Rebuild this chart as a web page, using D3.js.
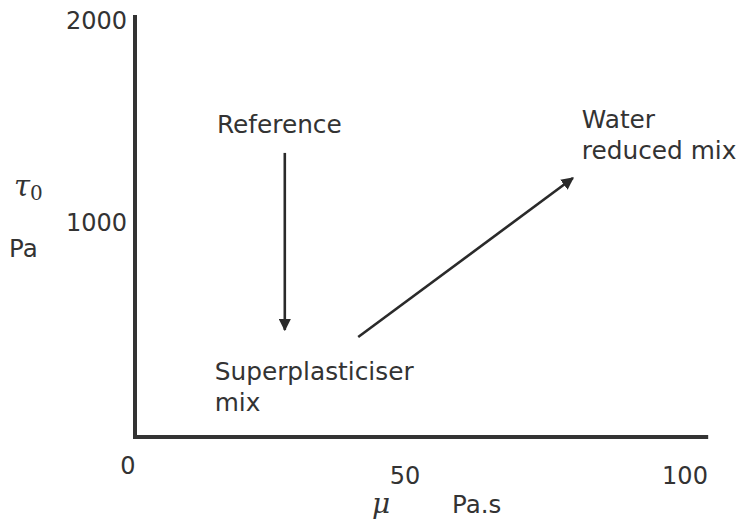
<!DOCTYPE html>
<html><head><meta charset="utf-8">
<script src="https://cdn.jsdelivr.net/npm/d3@7"></script>
<style>body{margin:0;background:#fff}</style>
</head><body>
<svg id="c" width="738" height="526"></svg>
<script>
const xTicks = [0, 50, 100];
const yTicks = [1000, 2000];
const arrows = [
  {name: "Reference → Superplasticiser", x1: 27.5, y1: 1356, x2: 27.5, y2: 511},
  {name: "Superplasticiser → Water reduced", x1: 40.8, y1: 477, x2: 79.7, y2: 1236}
];
const notes = [
  {lines: ["Reference"], mu: 15.2, tau: 1450},
  {lines: ["Superplasticiser", "mix"], mu: 14.8, tau: 273},
  {lines: ["Water", "reduced mix"], mu: 81.3, tau: 1475}
];

const svg = d3.select("#c");
const font = "DejaVu Sans, Verdana, sans-serif";
const ink = "#2a2a2a";
const x = d3.scaleLinear().domain([0, 100]).range([133, 685]);
const y = d3.scaleLinear().domain([0, 2000]).range([437, 18]);

svg.append("defs").append("marker")
  .attr("id", "ah").attr("viewBox", "0 0 10 10").attr("refX", 9).attr("refY", 5)
  .attr("markerWidth", 4.8).attr("markerHeight", 4.8).attr("markerUnits", "strokeWidth")
  .attr("orient", "auto")
  .append("path").attr("d", "M0,0 L10,5 L0,10 z").attr("fill", ink);

// axes lines
svg.append("line").attr("x1", x(0) + 2).attr("x2", x(0) + 2).attr("y1", y(2000) - 3).attr("y2", y(0) + 2)
  .attr("stroke", "#333").attr("stroke-width", 4);
svg.append("line").attr("x1", x(0)).attr("x2", x(104.2)).attr("y1", y(0)).attr("y2", y(0))
  .attr("stroke", "#333").attr("stroke-width", 4);

// y tick labels
svg.selectAll(".yt").data(yTicks).enter().append("text")
  .attr("x", 127).attr("y", d => y(d) + (d === 2000 ? 11 : 3))
  .attr("text-anchor", "end").attr("font-family", font).attr("font-size", 24).attr("fill", "#333")
  .text(d => d);

// x tick labels
svg.selectAll(".xt").data(xTicks).enter().append("text")
  .attr("x", d => x(d) + (d === 0 ? -5 : d === 50 ? -4 : 0))
  .attr("y", d => d === 0 ? 474 : 484)
  .attr("text-anchor", "middle").attr("font-family", font).attr("font-size", 24).attr("fill", "#333")
  .text(d => d);

// axis titles
const tau = svg.append("text").attr("x", 14).attr("y", 196).attr("fill", "#333")
  .attr("font-family", "DejaVu Serif, Liberation Serif, serif");
tau.append("tspan").attr("font-style", "italic").attr("font-size", 29).text("τ");
tau.append("tspan").attr("font-size", 20).attr("dy", 4).text("0");
svg.append("text").attr("x", 9).attr("y", 257).attr("font-family", font).attr("font-size", 24.5)
  .attr("fill", "#333").text("Pa");
svg.append("text").attr("x", 372).attr("y", 513).attr("font-family", "DejaVu Serif, Liberation Serif, serif")
  .attr("font-style", "italic").attr("font-size", 28).attr("fill", "#333").text("μ");
svg.append("text").attr("x", 452).attr("y", 513).attr("font-family", font).attr("font-size", 24.5)
  .attr("fill", "#333").text("Pa.s");

// arrows
svg.selectAll(".ar").data(arrows).enter().append("line")
  .attr("x1", d => x(d.x1)).attr("y1", d => y(d.y1))
  .attr("x2", d => x(d.x2)).attr("y2", d => y(d.y2))
  .attr("stroke", ink).attr("stroke-width", 2.6).attr("marker-end", "url(#ah)");

// notes
notes.forEach(n => {
  const t = svg.append("text").attr("font-family", font).attr("font-size", 24.8).attr("fill", "#333");
  n.lines.forEach((l, i) => {
    t.append("tspan").attr("x", x(n.mu)).attr("y", y(n.tau) + i * 31).text(l);
  });
});
</script>
</body></html>
